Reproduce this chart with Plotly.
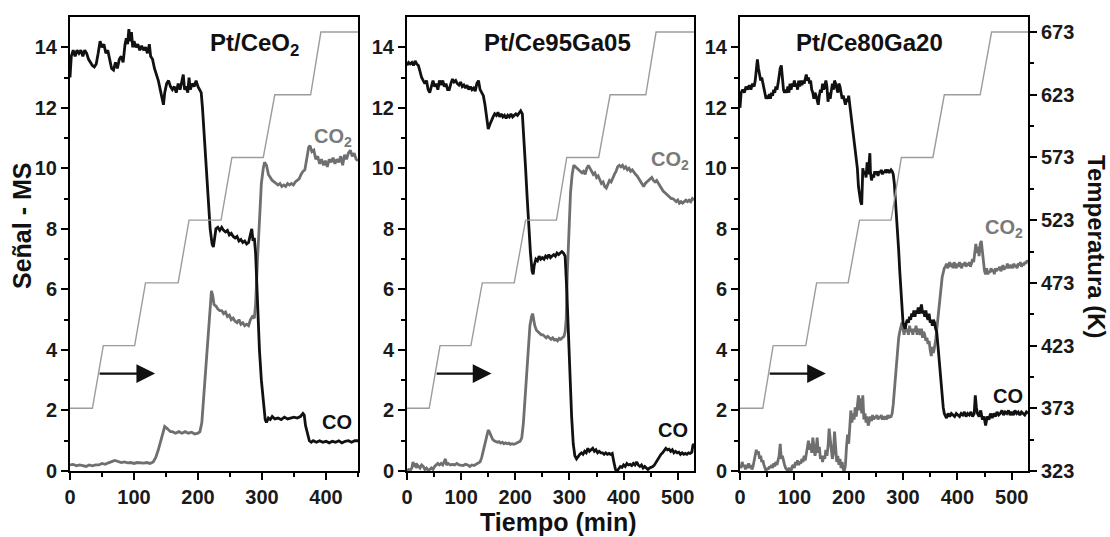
import plotly.graph_objects as go

# ---------------- data ----------------
temp_levels = [373, 373, 423, 423, 473, 473, 523, 523, 573, 573, 623, 623, 673, 673]
p1_temp_t = [0, 35, 52, 101, 118, 169, 186, 236, 253, 302, 320, 376, 392, 450]
p2_temp_t = [0, 41, 61, 118, 139, 198, 219, 276, 295, 354, 375, 441, 460, 530]
p3_temp_t = [0, 42, 61, 121, 141, 199, 220, 278, 297, 355, 376, 442, 463, 530]

p1_co = [(0,13.0),(2,13.7),(5,13.9),(8,13.7),(11,13.9),(14,13.8),(17,13.9),(20,13.7),(23,13.9),(26,13.8),
 (29,13.6),(32,13.5),(35,13.4),(38,13.35),(41,13.45),(44,13.8),(47,14.2),(50,14.0),(53,14.1),(56,13.8),
 (59,13.9),(62,13.6),(65,13.3),(68,13.25),(71,13.5),(74,13.3),(77,13.6),(80,13.7),(83,13.5),(86,14.1),
 (88,14.3),(90,14.1),(92,14.6),(94,14.2),(96,14.5),(98,14.0),(100,14.2),(103,14.0),(106,14.1),(109,13.9),
 (112,14.05),(115,13.9),(118,14.0),(121,13.8),(124,14.1),(126,13.7),(129,13.6),(132,13.3),(135,13.1),
 (138,12.9),(141,12.6),(144,12.3),(146,12.1),(148,12.5),(151,12.8),(154,12.9),(157,12.7),(160,12.6),
 (163,12.7),(166,12.5),(169,12.8),(172,12.6),(175,12.9),(177,13.1),(179,12.6),(182,12.7),(184,12.5),
 (186,13.0),(188,12.6),(191,12.8),(194,12.7),(197,12.9),(200,12.7),(203,12.6),(205,12.5),(207,12.0),
 (210,11.0),(213,10.0),(216,9.0),(219,8.0),(222,7.5),(224,7.4),(226,7.7),(228,8.0),(231,8.05),(234,7.95),
 (237,8.05),(240,7.95),(243,7.9),(246,7.95),(249,7.8),(252,7.85),(255,7.75),(258,7.7),(261,7.75),
 (264,7.6),(267,7.65),(270,7.55),(273,7.6),(276,7.5),(279,7.55),(282,7.9),(284,8.0),(286,7.6),(288,7.7),
 (290,7.2),(293,5.5),(296,4.0),(299,3.0),(302,2.2),(305,1.7),(307,1.6),(310,1.75),(313,1.7),(316,1.8),
 (320,1.72),(325,1.75),(330,1.7),(335,1.78),(340,1.72),(345,1.75),(350,1.78),(355,1.75),(360,1.8),
 (364,1.9),(366,1.85),(368,1.5),(371,1.2),(374,1.0),(377,0.95),(380,1.0),(385,0.95),(390,1.0),(395,0.95),
 (400,0.98),(405,0.93),(410,0.98),(415,0.95),(420,1.0),(425,0.93),(430,0.98),(435,1.0),(440,0.95),
 (445,1.0),(450,1.0)]

p1_co2 = [(0,0.2),(5,0.22),(10,0.17),(15,0.2),(20,0.18),(25,0.15),(30,0.2),(35,0.17),(40,0.2),(45,0.2),
 (50,0.25),(55,0.22),(60,0.27),(65,0.3),(70,0.35),(73,0.33),(76,0.3),(80,0.28),(85,0.3),(90,0.27),
 (95,0.28),(100,0.25),(105,0.28),(110,0.27),(115,0.26),(120,0.28),(125,0.25),(130,0.3),(134,0.45),
 (138,0.7),(142,1.0),(145,1.3),(148,1.47),(151,1.42),(154,1.35),(157,1.3),(160,1.3),(165,1.25),(170,1.3),
 (175,1.25),(180,1.3),(185,1.25),(190,1.28),(195,1.22),(200,1.25),(203,1.3),(206,1.6),(209,2.5),
 (212,3.5),(215,4.5),(218,5.3),(221,5.95),(223,5.8),(225,5.5),(228,5.45),(231,5.35),(234,5.3),(237,5.3),
 (240,5.2),(243,5.25),(246,5.1),(249,5.15),(252,5.0),(255,5.05),(258,4.95),(261,4.9),(264,5.0),
 (267,4.85),(270,4.9),(273,4.8),(276,4.85),(279,4.8),(282,5.0),(285,5.1),(288,5.05),(290,5.5),(293,7.0),
 (296,8.5),(299,9.5),(302,10.0),(304,10.2),(307,10.1),(310,9.8),(313,9.7),(316,9.6),(319,9.55),(322,9.5),
 (325,9.45),(328,9.5),(331,9.4),(334,9.45),(337,9.4),(340,9.5),(343,9.45),(346,9.5),(349,9.45),
 (352,9.55),(355,9.6),(358,9.65),(361,9.8),(364,9.9),(367,9.95),(370,10.3),(373,10.7),(375,10.75),
 (378,10.55),(381,10.6),(384,10.3),(387,10.4),(390,10.15),(393,10.3),(396,10.1),(399,10.25),(402,10.05),
 (405,10.3),(408,10.2),(411,10.35),(414,10.15),(417,10.3),(420,10.2),(423,10.4),(426,10.1),(429,10.45),
 (432,10.3),(435,10.5),(438,10.6),(441,10.4),(444,10.5),(447,10.3),(450,10.25)]

p2_co = [(0,13.4),(3,13.5),(6,13.45),(9,13.5),(12,13.4),(15,13.55),(18,13.45),(21,13.4),(24,13.2),(27,13.0),
 (30,12.9),(33,12.8),(36,12.9),(39,12.6),(42,12.5),(45,12.7),(48,12.9),(51,12.7),(54,12.8),(57,12.6),
 (60,12.9),(63,12.75),(66,12.9),(69,12.7),(72,12.8),(75,12.6),(78,12.6),(81,12.8),(84,12.95),(87,12.85),
 (90,12.9),(93,12.8),(96,12.75),(99,12.85),(102,12.7),(105,12.75),(108,12.65),(111,12.75),(114,12.6),
 (117,12.7),(120,12.6),(123,12.65),(126,12.55),(129,12.8),(132,12.9),(135,12.6),(138,12.5),(141,12.4),
 (144,12.1),(147,11.6),(150,11.3),(153,11.45),(156,11.6),(159,11.7),(162,11.8),(165,11.75),(168,11.85),
 (171,11.7),(174,11.8),(177,11.7),(180,11.75),(183,11.65),(186,11.75),(189,11.7),(192,11.8),(195,11.7),
 (198,11.75),(201,11.8),(204,11.75),(207,11.85),(210,11.9),(213,11.8),(216,11.0),(219,10.0),(222,9.0),
 (225,8.0),(228,7.2),(231,6.6),(233,6.5),(235,6.8),(238,7.0),(241,6.95),(244,7.1),(247,7.0),(250,7.05),
 (253,7.0),(256,7.1),(259,7.05),(262,7.15),(265,7.05),(268,7.1),(271,7.15),(274,7.1),(277,7.2),
 (280,7.15),(283,7.2),(286,7.25),(289,7.2),(292,7.1),(295,6.0),(298,4.5),(301,3.0),(304,1.8),(307,0.9),
 (310,0.5),(313,0.4),(316,0.5),(319,0.55),(322,0.6),(325,0.55),(328,0.65),(331,0.6),(334,0.75),
 (337,0.65),(340,0.7),(343,0.75),(346,0.65),(349,0.7),(352,0.6),(355,0.65),(358,0.6),(361,0.6),
 (364,0.55),(367,0.6),(370,0.55),(373,0.58),(376,0.55),(379,0.58),(382,0.3),(385,0.05),(388,0.0),
 (391,0.1),(394,0.15),(397,0.12),(400,0.2),(403,0.15),(406,0.25),(409,0.2),(412,0.22),(415,0.18),
 (418,0.25),(421,0.2),(424,0.3),(427,0.2),(430,0.15),(433,0.2),(436,0.1),(439,0.15),(442,0.1),(445,0.05),
 (448,0.1),(451,0.12),(454,0.15),(457,0.2),(460,0.3),(463,0.4),(466,0.45),(469,0.55),(472,0.6),(475,0.7),
 (478,0.75),(481,0.7),(484,0.72),(487,0.65),(490,0.7),(493,0.6),(496,0.65),(499,0.6),(502,0.62),
 (505,0.55),(508,0.6),(511,0.55),(514,0.58),(517,0.55),(520,0.6),(523,0.58),(526,0.62),(528,0.85),
 (530,0.9)]

p2_co2 = [(0,0.0),(3,0.05),(6,0.02),(9,0.1),(11,0.3),(13,0.15),(15,0.25),(17,0.1),(19,0.2),(21,0.15),
 (24,0.1),(27,0.2),(30,0.15),(33,0.05),(36,0.1),(39,0.03),(42,0.05),(45,0.1),(48,0.05),(51,0.15),
 (54,0.2),(57,0.25),(60,0.2),(63,0.25),(66,0.2),(69,0.3),(71,0.4),(73,0.2),(76,0.25),(80,0.2),(84,0.22),
 (88,0.2),(92,0.25),(96,0.2),(100,0.2),(104,0.18),(108,0.22),(112,0.2),(116,0.15),(120,0.2),(124,0.18),
 (128,0.22),(132,0.25),(135,0.3),(138,0.45),(141,0.7),(144,0.9),(147,1.1),(150,1.35),(152,1.3),
 (155,1.15),(158,1.05),(161,1.0),(164,0.98),(167,0.95),(170,0.97),(173,0.92),(176,0.95),(179,0.9),
 (182,0.93),(185,0.9),(188,0.92),(191,0.88),(194,0.9),(197,0.88),(200,0.9),(203,0.93),(206,0.95),
 (209,0.98),(212,1.1),(215,1.6),(218,2.4),(221,3.3),(224,4.2),(227,4.8),(230,5.1),(232,5.2),(234,5.0),
 (236,4.8),(239,4.65),(242,4.6),(245,4.55),(248,4.5),(251,4.5),(254,4.45),(257,4.4),(260,4.45),
 (263,4.4),(266,4.35),(269,4.4),(272,4.33),(275,4.35),(278,4.3),(281,4.38),(284,4.35),(287,4.4),
 (290,4.45),(292,4.6),(294,5.0),(296,6.5),(299,8.0),(302,9.2),(305,9.8),(308,10.1),(311,10.05),
 (314,10.0),(317,9.95),(320,9.9),(323,9.85),(326,9.9),(329,9.8),(332,10.0),(335,10.1),(338,10.0),
 (341,9.9),(344,9.8),(347,9.85),(350,9.7),(353,9.75),(356,9.6),(359,9.5),(362,9.55),(365,9.4),
 (368,9.35),(371,9.5),(374,9.6),(377,9.55),(380,9.7),(383,9.8),(386,9.9),(389,10.05),(392,10.1),
 (395,10.05),(398,10.1),(401,10.0),(404,10.05),(407,9.95),(410,10.0),(413,9.9),(416,9.95),(419,9.85),
 (422,9.8),(425,9.75),(428,9.65),(431,9.55),(434,9.45),(437,9.4),(440,9.5),(443,9.55),(446,9.6),
 (449,9.65),(452,9.7),(455,9.6),(458,9.55),(461,9.6),(464,9.5),(467,9.45),(470,9.35),(473,9.25),
 (476,9.2),(479,9.15),(482,9.1),(485,9.05),(488,9.0),(491,9.0),(494,8.95),(497,8.9),(500,8.95),
 (503,8.85),(506,8.9),(509,8.85),(512,8.9),(515,8.95),(518,8.9),(521,8.95),(524,8.9),(527,9.0),
 (530,8.95)]

p3_co = [(0,12.0),(2,12.5),(5,12.6),(8,12.5),(11,12.7),(14,12.6),(17,12.75),(20,12.6),(23,12.8),(26,12.7),
 (28,12.9),(30,13.2),(32,13.6),(34,13.3),(36,13.1),(38,12.9),(40,13.0),(42,12.8),(44,12.6),(46,12.5),
 (48,12.3),(50,12.4),(52,12.3),(54,12.45),(56,12.3),(58,12.5),(60,12.4),(62,12.6),(64,12.5),(66,12.7),
 (68,12.6),(70,12.8),(72,13.1),(74,13.3),(76,13.4),(78,12.9),(80,12.6),(82,12.5),(84,12.6),(86,12.5),
 (88,12.7),(90,12.5),(92,12.8),(94,12.6),(96,12.8),(98,12.7),(100,12.9),(102,12.7),(104,12.8),
 (106,12.6),(108,12.9),(110,12.7),(112,12.9),(114,12.75),(116,12.9),(118,12.8),(120,13.0),(122,13.1),
 (124,12.9),(126,13.0),(128,12.8),(130,12.9),(132,12.6),(134,12.5),(136,12.3),(138,12.5),(140,12.4),
 (142,12.2),(144,12.1),(146,12.4),(148,12.6),(150,12.5),(152,12.8),(154,12.6),(156,12.7),(158,12.9),
 (160,12.7),(162,12.2),(164,12.5),(166,12.3),(168,12.6),(170,12.8),(172,12.6),(174,12.9),(176,12.8),
 (178,12.6),(180,12.5),(182,12.8),(184,12.7),(186,12.5),(188,12.3),(190,12.4),(192,12.2),(194,12.1),
 (196,12.3),(198,12.2),(200,12.4),(202,12.1),(204,11.8),(206,11.5),(208,11.3),(210,11.0),(212,10.7),
 (214,10.3),(216,10.0),(218,9.4),(220,9.1),(222,8.9),(224,8.8),(225,9.6),(226,10.0),(228,9.8),
 (230,9.9),(232,9.7),(234,10.2),(236,9.8),(238,10.4),(239,10.5),(240,9.9),(242,9.6),(244,9.8),
 (246,9.7),(248,9.9),(250,9.8),(252,9.9),(254,9.75),(256,9.9),(258,9.85),(260,9.95),(262,9.8),
 (264,9.9),(266,9.85),(268,9.95),(270,9.9),(272,9.95),(274,9.85),(276,9.9),(278,9.95),(280,9.9),
 (282,9.8),(284,9.5),(286,9.0),(288,8.5),(290,8.0),(292,7.3),(294,6.6),(296,5.9),(298,5.3),(300,4.9),
 (302,4.8),(304,4.7),(306,4.9),(308,5.0),(310,4.9),(312,5.1),(314,5.0),(316,5.2),(318,5.1),(320,5.3),
 (322,5.1),(324,5.3),(326,5.2),(328,5.4),(330,5.2),(332,5.4),(334,5.5),(336,5.2),(338,5.3),(340,5.1),
 (342,5.3),(344,5.1),(346,5.0),(348,5.2),(350,4.9),(352,5.0),(354,4.8),(356,5.0),(358,4.9),(360,4.7),
 (362,4.6),(364,4.2),(366,3.8),(368,3.3),(370,2.8),(372,2.4),(374,2.1),(376,1.9),(378,1.8),(380,1.75),
 (383,1.9),(386,1.8),(389,1.9),(392,1.85),(395,1.8),(398,1.9),(401,1.85),(404,1.8),(407,1.9),
 (410,1.85),(413,1.95),(416,1.8),(419,1.9),(422,1.85),(425,1.95),(428,1.8),(431,1.9),(433,2.5),
 (435,2.1),(437,1.9),(440,1.8),(443,2.0),(446,1.7),(449,1.8),(452,1.5),(455,1.8),(458,1.7),(461,1.9),
 (464,1.75),(467,1.9),(470,1.8),(473,1.95),(476,1.85),(479,1.9),(482,2.0),(485,1.85),(488,1.95),
 (491,1.9),(494,2.0),(497,1.85),(500,1.95),(503,1.85),(506,2.0),(509,1.9),(512,1.95),(515,1.85),
 (518,1.95),(521,1.9),(524,1.85),(527,1.95),(530,1.9)]

p3_co2 = [(0,0.2),(2,0.1),(4,0.3),(6,0.15),(8,0.2),(10,0.05),(12,0.2),(14,0.1),(16,0.25),(18,0.1),
 (20,0.2),(22,0.05),(24,0.15),(26,0.3),(28,0.5),(30,0.7),(32,0.55),(34,0.65),(36,0.4),(38,0.5),
 (40,0.3),(42,0.35),(44,0.2),(46,0.1),(48,0.0),(50,0.1),(52,0.05),(54,0.15),(56,0.1),(58,0.2),(60,0.1),
 (62,0.25),(64,0.15),(66,0.3),(68,0.2),(70,0.35),(72,0.5),(74,0.9),(76,0.4),(78,0.5),(80,0.3),(82,0.2),
 (84,0.1),(86,0.05),(88,0.0),(90,0.1),(92,0.05),(94,0.0),(96,0.15),(98,0.2),(100,0.1),(102,0.3),
 (104,0.2),(106,0.35),(108,0.2),(110,0.3),(112,0.25),(114,0.4),(116,0.3),(118,0.5),(120,0.35),
 (122,0.6),(124,0.8),(126,1.0),(128,0.7),(130,0.9),(132,0.6),(134,1.1),(136,0.8),(138,0.5),(140,0.7),
 (142,1.1),(144,0.6),(146,0.8),(148,0.4),(150,0.5),(152,0.3),(154,0.5),(156,0.4),(158,0.7),(160,0.5),
 (162,0.8),(164,1.4),(166,1.0),(168,0.7),(170,0.4),(172,0.6),(174,1.3),(176,0.8),(178,0.3),(180,0.5),
 (182,0.2),(184,0.4),(186,0.1),(188,0.3),(190,0.05),(192,0.0),(194,0.2),(196,0.8),(198,1.2),(200,0.9),
 (202,1.5),(204,2.0),(206,1.6),(208,1.9),(210,1.7),(212,2.1),(214,1.8),(216,2.3),(218,2.5),(220,2.0),
 (222,2.4),(224,1.9),(226,2.5),(228,1.7),(230,1.9),(232,1.6),(234,1.8),(236,1.5),(238,1.7),(240,1.8),
 (242,1.65),(244,1.85),(246,1.7),(248,1.8),(250,1.75),(252,1.85),(254,1.7),(256,1.8),(258,1.75),
 (260,1.85),(262,1.7),(264,1.8),(266,1.75),(268,1.8),(270,1.7),(272,1.85),(274,1.75),(276,1.8),
 (278,1.8),(280,1.9),(282,2.2),(284,2.7),(286,3.2),(288,3.7),(290,4.1),(292,4.4),(294,4.6),(296,4.8),
 (298,4.9),(300,4.7),(302,4.5),(304,4.8),(306,4.6),(308,4.7),(310,4.5),(312,4.8),(314,4.6),(316,4.7),
 (318,4.5),(320,4.7),(322,4.6),(324,4.8),(326,4.5),(328,4.7),(330,4.6),(332,4.5),(334,4.7),(336,4.4),
 (338,4.6),(340,4.5),(342,4.3),(344,4.4),(346,4.2),(348,4.3),(350,4.0),(352,3.8),(354,4.1),(356,3.9),
 (360,4.3),(364,5.0),(368,5.8),(372,6.4),(376,6.7),(378,6.75),(380,6.85),(382,6.7),(384,6.8),
 (386,6.9),(388,6.75),(390,6.85),(392,6.7),(394,6.9),(396,6.8),(398,6.7),(400,6.85),(402,6.75),
 (404,6.9),(406,6.8),(408,6.7),(410,6.85),(412,6.8),(414,6.9),(416,6.75),(418,6.85),(420,6.8),
 (422,6.9),(424,6.75),(426,6.85),(428,7.0),(430,6.9),(432,7.3),(434,7.5),(436,7.2),(438,7.4),
 (440,7.1),(442,7.5),(444,7.6),(446,7.2),(448,7.0),(450,6.6),(452,6.5),(454,6.7),(456,6.5),(458,6.6),
 (460,6.55),(462,6.7),(464,6.6),(466,6.65),(468,6.5),(470,6.7),(472,6.6),(474,6.7),(476,6.65),
 (478,6.75),(480,6.6),(482,6.7),(484,6.8),(486,6.65),(488,6.75),(490,6.7),(492,6.85),(494,6.7),
 (496,6.8),(498,6.75),(500,6.8),(502,6.7),(504,6.85),(506,6.75),(508,6.8),(510,6.7),(512,6.85),
 (514,6.8),(516,6.9),(518,6.75),(520,6.85),(522,6.8),(524,6.9),(526,6.85),(528,6.95),(530,6.9)]

panel_titles = ["Pt/CeO<sub>2</sub>", "Pt/Ce95Ga05", "Pt/Ce80Ga20"]
x_max = [450, 530, 530]
temp_ticks = [323, 373, 423, 473, 523, 573, 623, 673]

# ---------------- styling ----------------
W, H = 1110, 537
FONT = "Liberation Sans, Arial, sans-serif"
CO_COLOR = "#111111"
CO2_COLOR = "#6f6f6f"
T_COLOR = "#9c9c9c"
x_px = [(70, 358), (407, 694), (740, 1028)]
y_top, y_bot = 17, 471
ydom = [1 - y_bot / H, 1 - y_top / H]

fig = go.Figure()

panels = [(p1_temp_t, p1_co, p1_co2), (p2_temp_t, p2_co, p2_co2), (p3_temp_t, p3_co, p3_co2)]
for i, (tt, co, co2) in enumerate(panels):
    xa = "x" if i == 0 else f"x{i+1}"
    ya = "y" if i == 0 else f"y{i+1}"
    ta = f"y{i+4}"
    fig.add_trace(go.Scatter(x=tt, y=temp_levels, mode="lines", xaxis=xa, yaxis=ta,
                             line=dict(color=T_COLOR, width=1.4), showlegend=False, hoverinfo="skip"))
    fig.add_trace(go.Scatter(x=[p[0] for p in co2], y=[p[1] for p in co2], mode="lines", xaxis=xa, yaxis=ya,
                             line=dict(color=CO2_COLOR, width=2.8), showlegend=False))
    fig.add_trace(go.Scatter(x=[p[0] for p in co], y=[p[1] for p in co], mode="lines", xaxis=xa, yaxis=ya,
                             line=dict(color=CO_COLOR, width=2.8), showlegend=False))

tickfont = dict(family=FONT, size=20, color="#1a1a1a", weight="bold")
axis_common = dict(showline=True, linecolor="black", linewidth=2, mirror=True, ticks="outside",
                   ticklen=7, tickwidth=2, tickcolor="black", showgrid=False, zeroline=False,
                   tickfont=tickfont, automargin=False)

layout = dict(width=W, height=H, margin=dict(l=0, r=0, t=0, b=0, autoexpand=False),
              paper_bgcolor="white", plot_bgcolor="white", showlegend=False)

for i in range(3):
    sx = "" if i == 0 else str(i + 1)
    layout[f"xaxis{sx}"] = dict(axis_common, domain=[x_px[i][0] / W, x_px[i][1] / W],
                                anchor=f"y{sx}", range=[0, x_max[i]], dtick=100, tick0=0,
                                minor=dict(dtick=50, ticks="outside", ticklen=4, tickwidth=2, tickcolor="black"))
    layout[f"yaxis{sx}"] = dict(axis_common, domain=ydom, anchor=f"x{sx}", range=[0, 15],
                                tickvals=[0, 2, 4, 6, 8, 10, 12, 14],
                                minor=dict(tickvals=[1, 3, 5, 7, 9, 11, 13], ticks="outside",
                                           ticklen=4, tickwidth=2, tickcolor="black"))
    tax = f"yaxis{i+4}"
    base = dict(domain=ydom, range=[323, 685], overlaying=("y" if i == 0 else f"y{i+1}"),
                anchor=("x" if i == 0 else f"x{i+1}"), showgrid=False, zeroline=False, automargin=False)
    if i < 2:
        base.update(visible=False)
    else:
        base.update(side="right", showline=True, linecolor="black", linewidth=2, ticks="outside",
                    ticklen=7, tickwidth=2, tickcolor="black", tickvals=temp_ticks, tickfont=tickfont,
                    minor=dict(tickvals=[348, 398, 448, 498, 548, 598, 648], ticks="outside",
                               ticklen=4, tickwidth=2, tickcolor="black"))
    layout[tax] = base

fig.update_layout(**layout)

def pa(px, py, text, size, color="#111111", angle=0, xanchor="center"):
    fig.add_annotation(x=px / W, y=1 - py / H, xref="paper", yref="paper", text=text, showarrow=False,
                       textangle=angle, xanchor=xanchor, yanchor="middle",
                       font=dict(family=FONT, size=size, color=color, weight="bold"))

# panel titles
pa(254, 45, panel_titles[0], 24)
pa(557, 43, panel_titles[1], 24)
pa(869, 43, panel_titles[2], 24)
# series labels
pa(333, 137, "CO<sub>2</sub>", 20, color="#7a7a7a")
pa(670, 160, "CO<sub>2</sub>", 20, color="#7a7a7a")
pa(1004, 229, "CO<sub>2</sub>", 20, color="#7a7a7a")
pa(337, 422, "CO", 20)
pa(673, 430, "CO", 20)
pa(1008, 396, "CO", 20)
# axis titles
pa(22, 226, "Señal - MS", 25, angle=-90)
pa(558, 522, "Tiempo (min)", 25)
pa(1097, 247, "Temperatura (K)", 24, angle=90)

# arrows pointing to the temperature axis
arrows = [("x", "y", 44, 133), ("x2", "y2", 52, 156), ("x3", "y3", 52, 158)]
for xr, yr, x0, x1 in arrows:
    fig.add_annotation(x=x1, y=3.22, ax=x0, ay=3.22, xref=xr, yref=yr, axref=xr, ayref=yr,
                       text="", showarrow=True, arrowhead=2, arrowsize=1.7, arrowwidth=2.2,
                       arrowcolor="#111111")

fig.write_html("out.html", config={"displayModeBar": False},
               post_script="document.body.style.margin='0';document.body.style.overflow='hidden';")
